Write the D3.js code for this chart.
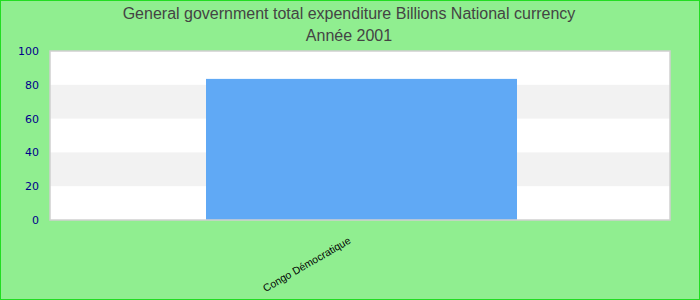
<!DOCTYPE html>
<html>
<head>
<meta charset="utf-8">
<script src="https://cdn.jsdelivr.net/npm/d3@7"></script>
<style>
  body { margin: 0; background: #fff; }
  svg { display: block; }
</style>
</head>
<body>
<div id="chart"></div>
<script>
// chart data
const categories = ['Congo Démocratique'];
const values = [83.5];
const yTicks = [0, 20, 40, 60, 80, 100];
const titleLines = ['General government total expenditure Billions National currency', 'Année 2001'];

const width = 700, height = 300;
const margin = { top: 51, right: 30, bottom: 80, left: 50 };
const plotW = width - margin.left - margin.right;
const plotH = height - margin.top - margin.bottom;

const svg = d3.select('#chart')
  .append('svg')
  .attr('width', width)
  .attr('height', height);

// background + border
svg.append('rect')
  .attr('x', 0.5).attr('y', 0.5)
  .attr('width', width - 1).attr('height', height - 1)
  .attr('fill', '#90ee90')
  .attr('stroke', '#22dd22')
  .attr('stroke-width', 1);

// title
svg.append('g')
  .selectAll('text')
  .data(titleLines)
  .join('text')
  .attr('x', 349)
  .attr('y', (d, i) => 19 + i * 22)
  .attr('text-anchor', 'middle')
  .style('font-family', 'Liberation Sans, Arial, sans-serif')
  .style('font-size', '16px')
  .attr('fill', '#444')
  .text(d => d);

const x = d3.scaleBand()
  .domain(categories)
  .range([0, plotW])
  .paddingInner(0.5)
  .paddingOuter(0.25);

const y = d3.scaleLinear()
  .domain([0, 100])
  .range([plotH, 0]);

const g = svg.append('g')
  .attr('transform', `translate(${margin.left},${margin.top})`);

// plot area
g.append('rect')
  .attr('x', 0).attr('y', 0)
  .attr('width', plotW).attr('height', plotH)
  .attr('fill', '#fff');

// alternating bands
const bands = d3.pairs(yTicks).filter((d, i) => i % 2 === 1);
g.append('g')
  .selectAll('rect')
  .data(bands)
  .join('rect')
  .attr('x', 0)
  .attr('y', d => y(d[1]))
  .attr('width', plotW)
  .attr('height', d => y(d[0]) - y(d[1]))
  .attr('fill', '#f2f2f2');

// bars
g.append('g')
  .selectAll('rect')
  .data(values)
  .join('rect')
  .attr('x', (d, i) => x(categories[i]) + 1)
  .attr('y', d => y(d))
  .attr('width', x.bandwidth() + 1)
  .attr('height', d => plotH - y(d))
  .attr('fill', '#60a9f5');

// plot border
g.append('rect')
  .attr('x', 0).attr('y', 0)
  .attr('width', plotW).attr('height', plotH)
  .attr('fill', 'none')
  .attr('stroke', '#d0d0d0')
  .attr('stroke-width', 1.5);

// y axis
const yAxis = g.append('g')
  .call(d3.axisLeft(y).tickValues(yTicks).tickSize(0).tickPadding(11));
yAxis.select('.domain').remove();
yAxis.selectAll('text')
  .style('font-family', 'DejaVu Sans, sans-serif')
  .style('font-size', '11px')
  .attr('fill', '#00008b');

// x axis
const xAxis = g.append('g')
  .attr('transform', `translate(0,${plotH})`)
  .call(d3.axisBottom(x).tickSize(0));
xAxis.select('.domain').remove();
xAxis.selectAll('text')
  .style('font-family', 'Liberation Sans, Arial, sans-serif')
  .style('font-size', '10.5px')
  .attr('fill', '#000')
  .attr('text-anchor', 'end')
  .attr('dy', 0)
  .attr('transform', 'translate(-10,20) rotate(-30)');
</script>
</body>
</html>
